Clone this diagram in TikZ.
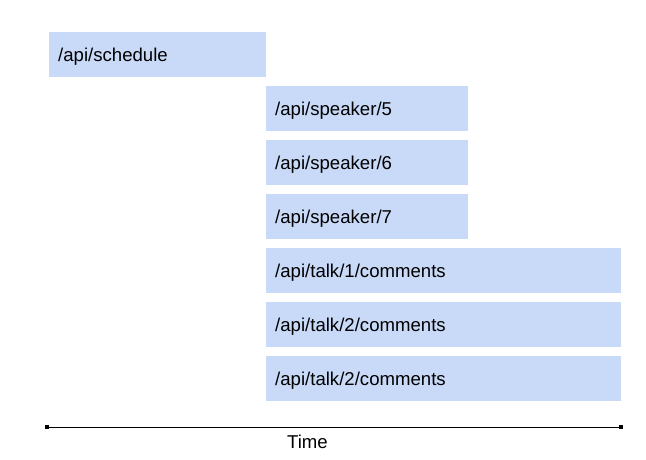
\documentclass[tikz,border=0pt]{standalone}
\usepackage{fontspec}
\setmainfont{Liberation Sans}
\definecolor{barblue}{HTML}{C9DAF8}
\begin{document}
\begin{tikzpicture}[x=1pt,y=-1pt,
  bar/.style={fill=barblue, draw=none, anchor=north west, minimum height=45pt,
    inner xsep=9pt, inner ysep=0pt, align=left, text height=17pt, text depth=4pt,
    font=\fontsize{18.6}{21}\selectfont},
  tick/.style={fill=black, draw=none, minimum size=4.3pt, inner sep=0pt},
  lbl/.style={font=\fontsize{18.6}{21}\selectfont, anchor=base}]
\useasboundingbox (0,0) rectangle (646,459);
\node[bar, text width=199pt] (sched) at (49,32) {/api/schedule};
\node[bar, text width=184pt] (sp5) at (266,86) {/api/speaker/5};
\node[bar, text width=184pt] (sp6) at (266,140) {/api/speaker/6};
\node[bar, text width=184pt] (sp7) at (266,194) {/api/speaker/7};
\node[bar, text width=337pt] (t1) at (266,248) {/api/talk/1/comments};
\node[bar, text width=337pt] (t2) at (266,302) {/api/talk/2/comments};
\node[bar, text width=337pt] (t3) at (266,356) {/api/talk/2/comments};
\node[tick] (tl) at (47,427.3) {};
\node[tick] (tr) at (621,427.3) {};
\draw[line width=1.1pt] (tl.center) -- (tr.center);
\node[lbl] (time) at (307.5,448.5) {Time};
\end{tikzpicture}
\end{document}
